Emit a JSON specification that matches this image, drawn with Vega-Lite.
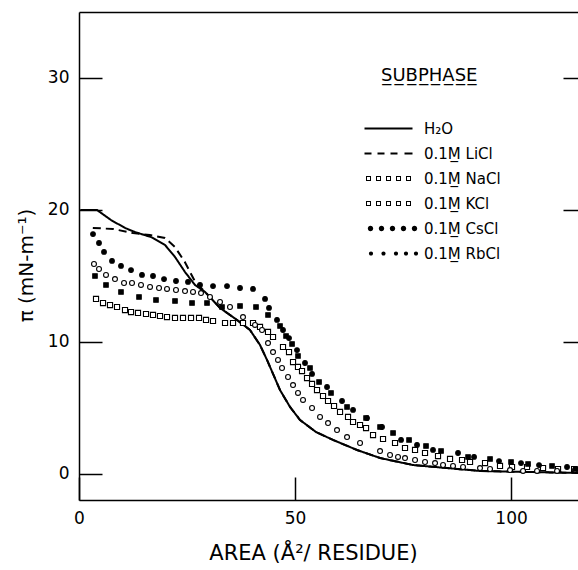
{
  "$schema": "https://vega.github.io/schema/vega-lite/v6.json",
  "width": 499,
  "height": 488,
  "autosize": "none",
  "padding": {"left": 79, "top": 12, "right": 0, "bottom": 70},
  "background": "white",
  "datasets": {
    "curves": [
      {"s":"H2O","x":0.3,"y":20.0},{"s":"H2O","x":4.17,"y":20.0},{"s":"H2O","x":7.41,"y":19.24},{"s":"H2O","x":10.65,"y":18.64},{"s":"H2O","x":12.96,"y":18.33},{"s":"H2O","x":16.67,"y":17.95},{"s":"H2O","x":19.91,"y":17.35},{"s":"H2O","x":22.22,"y":16.44},{"s":"H2O","x":24.54,"y":15.3},{"s":"H2O","x":26.85,"y":14.32},{"s":"H2O","x":29.17,"y":13.79},{"s":"H2O","x":32.64,"y":12.58},{"s":"H2O","x":36.57,"y":11.67},{"s":"H2O","x":39.58,"y":10.91},{"s":"H2O","x":41.9,"y":9.77},{"s":"H2O","x":43.52,"y":8.64},{"s":"H2O","x":46.53,"y":6.36},{"s":"H2O","x":48.84,"y":5.08},{"s":"H2O","x":51.16,"y":4.09},{"s":"H2O","x":54.86,"y":3.18},{"s":"H2O","x":58.8,"y":2.58},{"s":"H2O","x":64.35,"y":1.82},{"s":"H2O","x":69.68,"y":1.21},{"s":"H2O","x":77.31,"y":0.68},{"s":"H2O","x":85.19,"y":0.45},{"s":"H2O","x":92.82,"y":0.23},{"s":"H2O","x":104.4,"y":0.15},{"s":"H2O","x":115.5,"y":0.08},
      {"s":"LiCl","x":3.2,"y":18.64},{"s":"LiCl","x":7.9,"y":18.56},{"s":"LiCl","x":12.5,"y":18.26},{"s":"LiCl","x":16.4,"y":18.1},{"s":"LiCl","x":19.9,"y":17.88},{"s":"LiCl","x":22.2,"y":17.2},{"s":"LiCl","x":24.5,"y":16.06},{"s":"LiCl","x":26.9,"y":14.55},{"s":"LiCl","x":29.2,"y":13.79},{"s":"LiCl","x":32.64,"y":12.58},{"s":"LiCl","x":36.57,"y":11.67},{"s":"LiCl","x":39.58,"y":10.91},{"s":"LiCl","x":41.9,"y":9.77},{"s":"LiCl","x":43.52,"y":8.64},{"s":"LiCl","x":46.53,"y":6.36},{"s":"LiCl","x":48.84,"y":5.08},{"s":"LiCl","x":51.16,"y":4.09},{"s":"LiCl","x":54.86,"y":3.18},{"s":"LiCl","x":58.8,"y":2.58},{"s":"LiCl","x":64.35,"y":1.82},{"s":"LiCl","x":69.68,"y":1.21},{"s":"LiCl","x":77.31,"y":0.68},{"s":"LiCl","x":85.19,"y":0.45},{"s":"LiCl","x":92.82,"y":0.23},{"s":"LiCl","x":104.4,"y":0.15},{"s":"LiCl","x":115.5,"y":0.08}
    ],
    "points": [
      {"s":"NaCl","x":3.94,"y":13.26},{"s":"NaCl","x":5.56,"y":12.95},{"s":"NaCl","x":7.18,"y":12.8},{"s":"NaCl","x":8.8,"y":12.65},{"s":"NaCl","x":10.65,"y":12.42},{"s":"NaCl","x":12.04,"y":12.27},{"s":"NaCl","x":13.66,"y":12.2},{"s":"NaCl","x":15.51,"y":12.12},{"s":"NaCl","x":17.13,"y":12.05},{"s":"NaCl","x":18.75,"y":11.97},{"s":"NaCl","x":20.37,"y":11.89},{"s":"NaCl","x":22.22,"y":11.82},{"s":"NaCl","x":24.07,"y":11.82},{"s":"NaCl","x":25.93,"y":11.82},{"s":"NaCl","x":27.78,"y":11.82},{"s":"NaCl","x":29.4,"y":11.67},{"s":"NaCl","x":31.02,"y":11.59},{"s":"NaCl","x":33.8,"y":11.44},{"s":"NaCl","x":35.65,"y":11.44},{"s":"NaCl","x":37.96,"y":11.44},{"s":"NaCl","x":40.28,"y":11.44},{"s":"NaCl","x":41.9,"y":11.14},{"s":"NaCl","x":43.75,"y":10.76},{"s":"NaCl","x":44.91,"y":10.38},{"s":"NaCl","x":47.22,"y":9.62},{"s":"NaCl","x":48.61,"y":9.24},{"s":"NaCl","x":49.54,"y":8.48},{"s":"NaCl","x":50.69,"y":8.11},{"s":"NaCl","x":51.62,"y":7.8},{"s":"NaCl","x":52.78,"y":7.27},{"s":"NaCl","x":53.94,"y":6.82},{"s":"NaCl","x":55.09,"y":6.36},{"s":"NaCl","x":56.48,"y":5.91},{"s":"NaCl","x":57.64,"y":5.53},{"s":"NaCl","x":59.03,"y":5.15},{"s":"NaCl","x":60.42,"y":4.7},{"s":"NaCl","x":62.27,"y":4.32},{"s":"NaCl","x":63.43,"y":3.94},{"s":"NaCl","x":65.05,"y":3.71},{"s":"NaCl","x":66.44,"y":3.48},{"s":"NaCl","x":68.06,"y":2.95},{"s":"NaCl","x":70.37,"y":2.65},{"s":"NaCl","x":73.15,"y":2.35},{"s":"NaCl","x":75.46,"y":1.97},{"s":"NaCl","x":77.78,"y":1.82},{"s":"NaCl","x":80.09,"y":1.59},{"s":"NaCl","x":83.1,"y":1.36},{"s":"NaCl","x":85.88,"y":1.14},{"s":"NaCl","x":88.66,"y":1.06},{"s":"NaCl","x":90.51,"y":0.91},{"s":"NaCl","x":93.98,"y":0.83},{"s":"NaCl","x":97.45,"y":0.61},{"s":"NaCl","x":100.23,"y":0.53},{"s":"NaCl","x":103.7,"y":0.53},{"s":"NaCl","x":107.41,"y":0.45},{"s":"NaCl","x":110.88,"y":0.38},{"s":"NaCl","x":114.6,"y":0.38},
      {"s":"KCl","x":3.47,"y":15.91},{"s":"KCl","x":4.63,"y":15.53},{"s":"KCl","x":6.25,"y":15.08},{"s":"KCl","x":8.33,"y":14.77},{"s":"KCl","x":10.42,"y":14.47},{"s":"KCl","x":12.27,"y":14.47},{"s":"KCl","x":14.35,"y":14.32},{"s":"KCl","x":16.44,"y":14.17},{"s":"KCl","x":18.52,"y":14.09},{"s":"KCl","x":20.37,"y":14.02},{"s":"KCl","x":22.45,"y":13.94},{"s":"KCl","x":24.54,"y":13.86},{"s":"KCl","x":26.39,"y":13.79},{"s":"KCl","x":28.24,"y":13.71},{"s":"KCl","x":30.32,"y":13.41},{"s":"KCl","x":32.64,"y":13.03},{"s":"KCl","x":34.95,"y":12.65},{"s":"KCl","x":37.96,"y":11.89},{"s":"KCl","x":40.74,"y":11.29},{"s":"KCl","x":42.36,"y":10.91},{"s":"KCl","x":43.75,"y":9.92},{"s":"KCl","x":44.91,"y":9.24},{"s":"KCl","x":46.06,"y":8.64},{"s":"KCl","x":46.99,"y":8.03},{"s":"KCl","x":48.38,"y":7.35},{"s":"KCl","x":49.54,"y":6.74},{"s":"KCl","x":50.69,"y":6.14},{"s":"KCl","x":51.85,"y":5.61},{"s":"KCl","x":53.94,"y":5.0},{"s":"KCl","x":55.79,"y":4.32},{"s":"KCl","x":57.64,"y":3.86},{"s":"KCl","x":59.72,"y":3.33},{"s":"KCl","x":62.04,"y":2.8},{"s":"KCl","x":65.05,"y":2.35},{"s":"KCl","x":69.68,"y":1.74},{"s":"KCl","x":71.99,"y":1.44},{"s":"KCl","x":73.84,"y":1.29},{"s":"KCl","x":75.46,"y":1.21},{"s":"KCl","x":77.78,"y":1.06},{"s":"KCl","x":80.09,"y":0.91},{"s":"KCl","x":82.41,"y":0.83},{"s":"KCl","x":84.26,"y":0.68},{"s":"KCl","x":86.57,"y":0.61},{"s":"KCl","x":88.89,"y":0.53},{"s":"KCl","x":92.82,"y":0.45},{"s":"KCl","x":95.14,"y":0.38},{"s":"KCl","x":99.77,"y":0.3},{"s":"KCl","x":102.78,"y":0.23},{"s":"KCl","x":106.02,"y":0.23},{"s":"KCl","x":110.65,"y":0.23},{"s":"KCl","x":114.81,"y":0.3},
      {"s":"CsCl","x":3.24,"y":18.18},{"s":"CsCl","x":4.63,"y":17.5},{"s":"CsCl","x":5.79,"y":16.82},{"s":"CsCl","x":7.64,"y":16.14},{"s":"CsCl","x":9.72,"y":15.76},{"s":"CsCl","x":12.04,"y":15.45},{"s":"CsCl","x":14.58,"y":15.08},{"s":"CsCl","x":17.13,"y":15.0},{"s":"CsCl","x":19.68,"y":14.77},{"s":"CsCl","x":22.45,"y":14.62},{"s":"CsCl","x":25.23,"y":14.55},{"s":"CsCl","x":28.01,"y":14.32},{"s":"CsCl","x":31.02,"y":14.24},{"s":"CsCl","x":34.26,"y":14.24},{"s":"CsCl","x":37.27,"y":14.09},{"s":"CsCl","x":40.28,"y":14.02},{"s":"CsCl","x":43.06,"y":13.26},{"s":"CsCl","x":43.98,"y":12.58},{"s":"CsCl","x":45.83,"y":11.67},{"s":"CsCl","x":47.22,"y":10.91},{"s":"CsCl","x":48.61,"y":10.3},{"s":"CsCl","x":50.46,"y":9.39},{"s":"CsCl","x":52.31,"y":8.41},{"s":"CsCl","x":53.94,"y":7.58},{"s":"CsCl","x":57.41,"y":6.59},{"s":"CsCl","x":60.88,"y":5.53},{"s":"CsCl","x":63.43,"y":4.85},{"s":"CsCl","x":66.67,"y":4.24},{"s":"CsCl","x":70.14,"y":3.56},{"s":"CsCl","x":74.54,"y":2.58},{"s":"CsCl","x":78.24,"y":2.2},{"s":"CsCl","x":81.94,"y":1.82},{"s":"CsCl","x":87.73,"y":1.59},{"s":"CsCl","x":91.44,"y":1.29},{"s":"CsCl","x":97.22,"y":0.98},{"s":"CsCl","x":102.31,"y":0.83},{"s":"CsCl","x":106.48,"y":0.68},{"s":"CsCl","x":112.96,"y":0.53},
      {"s":"RbCl","x":3.7,"y":15.0},{"s":"RbCl","x":6.25,"y":14.32},{"s":"RbCl","x":9.72,"y":13.79},{"s":"RbCl","x":13.89,"y":13.41},{"s":"RbCl","x":17.82,"y":13.18},{"s":"RbCl","x":22.22,"y":13.11},{"s":"RbCl","x":26.16,"y":12.95},{"s":"RbCl","x":29.63,"y":12.95},{"s":"RbCl","x":33.1,"y":12.65},{"s":"RbCl","x":37.27,"y":12.73},{"s":"RbCl","x":40.97,"y":12.65},{"s":"RbCl","x":43.75,"y":12.05},{"s":"RbCl","x":46.53,"y":11.21},{"s":"RbCl","x":47.92,"y":10.45},{"s":"RbCl","x":49.31,"y":9.85},{"s":"RbCl","x":50.69,"y":8.94},{"s":"RbCl","x":53.47,"y":8.03},{"s":"RbCl","x":55.56,"y":6.97},{"s":"RbCl","x":58.33,"y":6.14},{"s":"RbCl","x":62.04,"y":5.08},{"s":"RbCl","x":66.44,"y":4.24},{"s":"RbCl","x":69.68,"y":3.56},{"s":"RbCl","x":72.69,"y":3.11},{"s":"RbCl","x":76.39,"y":2.58},{"s":"RbCl","x":80.32,"y":2.12},{"s":"RbCl","x":83.8,"y":1.74},{"s":"RbCl","x":90.05,"y":1.29},{"s":"RbCl","x":95.14,"y":1.14},{"s":"RbCl","x":100.0,"y":0.91},{"s":"RbCl","x":103.94,"y":0.76},{"s":"RbCl","x":109.49,"y":0.61},{"s":"RbCl","x":115.0,"y":0.38}
    ]
  },
  "layer": [
    {
      "data": {"name": "curves"},
      "mark": {"type": "line", "color": "black", "strokeWidth": 2, "clip": true},
      "encoding": {
        "x": {"field": "x", "type": "quantitative", "scale": {"domain": [0, 115.5], "nice": false, "zero": false},
          "axis": {"orient": "bottom", "values": [0, 50, 100], "tickSize": -23, "labelPadding": 33, "labelFontSize": 17, "labelFlush": false,
            "title": "AREA (Å²/ RESIDUE)", "titleFontSize": 21, "titleX": 234, "titleY": 53, "titleBaseline": "middle", "titleAlign": "center"}},
        "y": {"field": "y", "type": "quantitative", "scale": {"domain": [-1.97, 35], "nice": false, "zero": false},
          "axis": {"orient": "left", "values": [0, 10, 20, 30], "tickSize": -23, "labelPadding": 33, "labelFontSize": 17,
            "title": "π (mN-m⁻¹)", "titleFontSize": 20, "titleX": -53, "titleY": 253, "titleAngle": 270, "titleBaseline": "middle", "titleAlign": "center"}},
        "strokeDash": {"field": "s", "type": "nominal", "scale": {"domain": ["H2O", "LiCl"], "range": [[1, 0], [8, 5]]}, "legend": null},
        "detail": {"field": "s"}
      }
    },
    {
      "data": {"name": "points"},
      "mark": {"type": "point", "filled": true, "stroke": "black", "strokeWidth": 1.1, "opacity": 1, "clip": true},
      "encoding": {
        "x": {"field": "x", "type": "quantitative",
          "axis": {"orient": "top", "labels": false, "ticks": false, "title": null}},
        "y": {"field": "y", "type": "quantitative",
          "axis": {"orient": "right", "values": [10, 20, 30], "labels": false, "tickSize": -15, "domain": false, "title": null}},
        "shape": {"field": "s", "type": "nominal",
          "scale": {"domain": ["NaCl", "KCl", "CsCl", "RbCl"], "range": ["square", "circle", "circle", "square"]}, "legend": null},
        "fill": {"field": "s", "type": "nominal", "scale": {"domain": ["NaCl", "KCl", "CsCl", "RbCl"], "range": ["white", "white", "black", "black"]}, "legend": null},
        "size": {"field": "s", "type": "nominal", "scale": {"domain": ["NaCl", "KCl", "CsCl", "RbCl"], "range": [26, 20, 32, 26]}, "legend": null}
      }
    },
    {
      "data": {"name": "points"},
      "mark": {"type": "point", "filled": true, "color": "black", "opacity": 0},
      "encoding": {
        "x": {"field": "x", "type": "quantitative", "axis": null},
        "y": {"field": "y", "type": "quantitative", "axis": null},
        "shape": {"field": "s", "type": "nominal",
          "scale": {"domain": ["H2O", "LiCl", "NaCl", "KCl", "CsCl", "RbCl"],
            "range": [
              "M-4.8,-0.2L4.8,-0.2L4.8,0.2L-4.8,0.2Z",
              "M-4.8,-0.18L-3.4,-0.18L-3.4,0.18L-4.8,0.18ZM-2.2,-0.18L-0.8,-0.18L-0.8,0.18L-2.2,0.18ZM0.4,-0.18L1.8,-0.18L1.8,0.18L0.4,0.18ZM3.2,-0.18L4.8,-0.18L4.8,0.18L3.2,0.18Z",
              "M-4.5,-0.5L-3.5,-0.5L-3.5,0.5L-4.5,0.5ZM-4.3,-0.3L-4.3,0.3L-3.7,0.3L-3.7,-0.3ZM-2.5,-0.5L-1.5,-0.5L-1.5,0.5L-2.5,0.5ZM-2.3,-0.3L-2.3,0.3L-1.7,0.3L-1.7,-0.3ZM-0.5,-0.5L0.5,-0.5L0.5,0.5L-0.5,0.5ZM-0.3,-0.3L-0.3,0.3L0.3,0.3L0.3,-0.3ZM1.5,-0.5L2.5,-0.5L2.5,0.5L1.5,0.5ZM1.7,-0.3L1.7,0.3L2.3,0.3L2.3,-0.3ZM3.5,-0.5L4.5,-0.5L4.5,0.5L3.5,0.5ZM3.7,-0.3L3.7,0.3L4.3,0.3L4.3,-0.3Z",
              "M-4.5,-0.5L-3.5,-0.5L-3.5,0.5L-4.5,0.5ZM-4.3,-0.3L-4.3,0.3L-3.7,0.3L-3.7,-0.3ZM-2.5,-0.5L-1.5,-0.5L-1.5,0.5L-2.5,0.5ZM-2.3,-0.3L-2.3,0.3L-1.7,0.3L-1.7,-0.3ZM-0.5,-0.5L0.5,-0.5L0.5,0.5L-0.5,0.5ZM-0.3,-0.3L-0.3,0.3L0.3,0.3L0.3,-0.3ZM1.5,-0.5L2.5,-0.5L2.5,0.5L1.5,0.5ZM1.7,-0.3L1.7,0.3L2.3,0.3L2.3,-0.3ZM3.5,-0.5L4.5,-0.5L4.5,0.5L3.5,0.5ZM3.7,-0.3L3.7,0.3L4.3,0.3L4.3,-0.3Z",
              "M-4.14,0a0.54,0.54 0 1,0 1.08,0a0.54,0.54 0 1,0 -1.08,0ZM-1.94,0a0.54,0.54 0 1,0 1.08,0a0.54,0.54 0 1,0 -1.08,0ZM0.26,0a0.54,0.54 0 1,0 1.08,0a0.54,0.54 0 1,0 -1.08,0ZM2.46,0a0.54,0.54 0 1,0 1.08,0a0.54,0.54 0 1,0 -1.08,0ZM4.66,0a0.54,0.54 0 1,0 1.08,0a0.54,0.54 0 1,0 -1.08,0Z",
              "M-3.92,0a0.42,0.42 0 1,0 0.84,0a0.42,0.42 0 1,0 -0.84,0ZM-1.42,0a0.42,0.42 0 1,0 0.84,0a0.42,0.42 0 1,0 -0.84,0ZM1.08,0a0.42,0.42 0 1,0 0.84,0a0.42,0.42 0 1,0 -0.84,0ZM3.08,0a0.42,0.42 0 1,0 0.84,0a0.42,0.42 0 1,0 -0.84,0ZM5.08,0a0.42,0.42 0 1,0 0.84,0a0.42,0.42 0 1,0 -0.84,0Z"
            ]},
          "legend": {"title": "S̲U̲B̲P̲H̲A̲S̲E̲", "labelExpr": "datum.label == 'H2O' ? 'H₂O' : '0.1M̲  ' + datum.label"}}
      }
    }
  ],
  "resolve": {
    "axis": {"x": "independent", "y": "independent"},
    "scale": {"shape": "independent", "fill": "independent", "size": "independent"}
  },
  "config": {
    "view": {"stroke": null},
    "axis": {"grid": false, "domainColor": "black", "tickColor": "black", "labelColor": "black", "titleColor": "black",
      "labelFont": "DejaVu Sans", "titleFont": "DejaVu Sans", "titleFontWeight": "normal", "domainWidth": 1.5, "tickWidth": 1.5},
    "legend": {
      "orient": "none", "legendX": 302, "legendY": 55, "padding": 0,
      "titleFont": "DejaVu Sans", "titleFontSize": 18, "titleFontWeight": "normal", "titleColor": "black", "titleAnchor": "start", "titlePadding": 36,
      "labelFont": "DejaVu Sans", "labelFontSize": 15, "labelColor": "black", "labelOffset": 28,
      "symbolSize": 100, "rowPadding": 9, "symbolOpacity": 1, "symbolFillColor": "black", "symbolStrokeWidth": 0
    }
  }
}
